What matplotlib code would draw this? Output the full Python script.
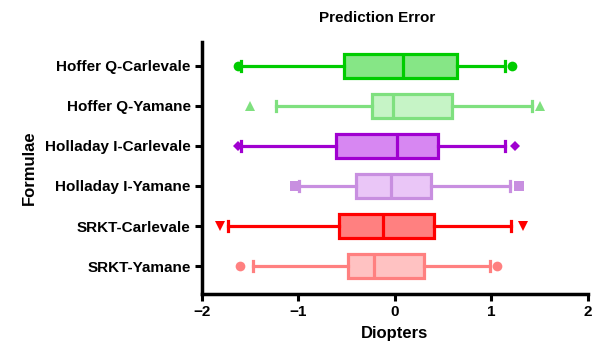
import matplotlib
matplotlib.use("Agg")
import matplotlib.pyplot as plt

plt.rcParams['font.family'] = ['Liberation Sans', 'DejaVu Sans']

labels = ["Hoffer Q-Carlevale", "Hoffer Q-Yamane", "Holladay I-Carlevale",
          "Holladay I-Yamane", "SRKT-Carlevale", "SRKT-Yamane"]
whislo = [-1.59, -1.23, -1.59, -0.99, -1.73, -1.47]
q1 = [-0.53, -0.24, -0.61, -0.40, -0.58, -0.49]
med = [0.08, -0.02, 0.02, -0.04, -0.12, -0.22]
q3 = [0.64, 0.59, 0.45, 0.37, 0.40, 0.30]
whishi = [1.14, 1.42, 1.14, 1.19, 1.20, 0.98]
out_lo = [-1.62, -1.50, -1.62, -1.03, -1.81, -1.60]
out_hi = [1.21, 1.50, 1.24, 1.28, 1.33, 1.06]

edge_colors = ["#00CC00", "#7FE07F", "#A000D0", "#C88FE0", "#FF0000", "#FF8080"]
face_colors = ["#86E686", "#C6F4C6", "#D787F2", "#EAC6F7", "#FF8080", "#FFC2C2"]
markers = ["o", "^", "D", "s", "v", "o"]
msizes = [7, 7, 5.5, 6.5, 7, 7]

fig = plt.figure(figsize=(5.97, 3.5), dpi=100)
ax = fig.add_axes([0.338, 0.16, 0.647, 0.72])

n = len(labels)
positions = [n - i for i in range(n)]
for i in range(n):
    stats = [dict(med=med[i], q1=q1[i], q3=q3[i], whislo=whislo[i],
                  whishi=whishi[i], fliers=[])]
    lw = 2.3
    ax.bxp(stats, positions=[positions[i]], vert=False, widths=0.6,
           patch_artist=True, showfliers=False,
           boxprops=dict(facecolor=face_colors[i], edgecolor=edge_colors[i], linewidth=lw),
           medianprops=dict(color=edge_colors[i], linewidth=lw),
           whiskerprops=dict(color=edge_colors[i], linewidth=lw),
           capprops=dict(color=edge_colors[i], linewidth=lw),
           capwidths=0.25)
    ax.plot([out_lo[i], out_hi[i]], [positions[i], positions[i]], linestyle='none',
            marker=markers[i], markersize=msizes[i], color=edge_colors[i],
            markeredgewidth=0)

ax.set_xlim(-2, 2)
ax.set_ylim(0.3, 6.6)
ax.set_xticks([-2, -1, 0, 1, 2])
ax.set_xticklabels(["\u22122", "\u22121", "0", "1", "2"])
ax.set_yticks(positions)
ax.set_yticklabels(labels)
for s in ["top", "right"]:
    ax.spines[s].set_visible(False)
for s in ["left", "bottom"]:
    ax.spines[s].set_linewidth(2.5)
ax.tick_params(axis='both', width=2.2, length=5, pad=3)
ax.tick_params(axis='y', labelsize=11)
ax.tick_params(axis='x', labelsize=11)
for t in ax.get_xticklabels() + ax.get_yticklabels():
    t.set_fontweight('bold')

ax.set_xlabel("Diopters", fontsize=12, fontweight='bold', labelpad=5)
ax.set_ylabel("Formulae", fontsize=12, fontweight='bold', labelpad=6)
fig.text(377 / 597, 1 - 18 / 350, "Prediction Error", ha='center', va='center',
         fontsize=11, fontweight='bold')

fig.savefig("out.png", dpi=100)
